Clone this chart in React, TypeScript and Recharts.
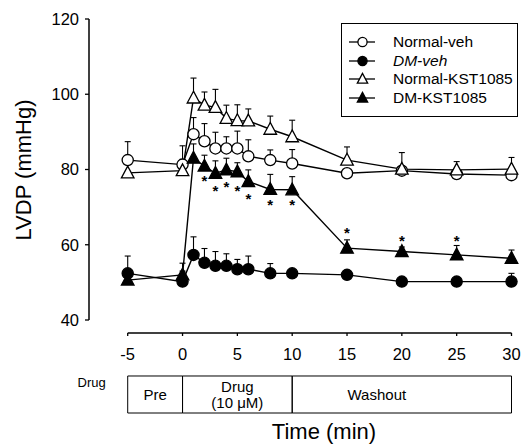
import React from 'react';
import {
  ComposedChart,
  Line,
  XAxis,
  YAxis,
  ErrorBar,
  Scatter,
  ReferenceLine,
  ReferenceArea,
  Legend,
} from 'recharts';

// ---------- data ----------
const times = [-5, 0, 1, 2, 3, 4, 5, 6, 8, 10, 15, 20, 25, 30];
const normalVeh = [82.5, 81.3, 89.4, 87.5, 85.6, 85.6, 85.6, 83.5, 82.5, 81.6, 79.0, 79.7, 78.8, 78.5];
const normalVehErr = [4.9, 5.0, 4.4, 4.7, 4.3, 3.1, 4.6, 4.4, 2.7, 3.7, 0.8, 1.2, 1.0, 1.0];
const dmVeh = [52.4, 50.2, 57.3, 55.2, 54.4, 54.4, 53.5, 53.5, 52.4, 52.4, 52.0, 50.2, 50.2, 50.2];
const dmVehErr = [4.6, 4.9, 4.8, 3.8, 3.8, 3.2, 2.6, 3.5, 2.6, 1.0, 1.0, 1.0, 1.0, 2.2];
const normalKst = [79.1, 79.7, 99.0, 97.1, 96.5, 93.6, 93.0, 92.9, 90.7, 88.7, 82.5, 80.1, 79.9, 80.1];
const normalKstErr = [3.2, 3.0, 5.3, 3.5, 4.8, 3.5, 4.2, 3.2, 3.5, 4.4, 3.5, 4.4, 2.2, 3.1];
const dmKst = [50.6, 52.0, 83.0, 80.9, 79.0, 79.9, 79.4, 76.8, 74.7, 74.6, 59.1, 58.2, 57.3, 56.4];
const dmKstErr = [1.0, 1.0, 3.8, 2.9, 3.3, 3.1, 2.4, 3.1, 4.0, 3.5, 2.2, 1.2, 2.5, 2.2];

const starTimes = [2, 3, 4, 5, 6, 8, 10, 15, 20, 25];
const starValues = [77.7, 75.0, 76.2, 75.0, 73.0, 71.4, 71.4, 63.9, 61.9, 61.9];

const xTicks = [-5, 0, 5, 10, 15, 20, 25, 30];
const yTicks = [40, 60, 80, 100, 120];

const phaseStarts = [-5, 0, 10];
const phaseEnds = [0, 10, 30];
const phaseLabels = [['Pre'], ['Drug', '(10 \u03BCM)'], ['Washout']];

const seriesNames = ['Normal-veh', 'DM-veh', 'Normal-KST1085', 'DM-KST1085'];
const seriesKinds = ['circleOpen', 'circleFilled', 'triOpen', 'triFilled'];

// ---------- layout constants ----------
const X_MIN = -8.53;
const X_MAX = 30;
const Y_MIN = 36.545;
const Y_MAX = 120;
const BOX_TOP = 25.12;
const BOX_BOTTOM = 15.28;
const FONT = '"Liberation Sans", Arial, Helvetica, sans-serif';

const data = times.map((t, i) => ({
  t,
  nv: normalVeh[i],
  nvE: [0, normalVehErr[i]],
  dv: dmVeh[i],
  dvE: [0, dmVehErr[i]],
  nk: normalKst[i],
  nkE: [0, normalKstErr[i]],
  dk: dmKst[i],
  dkE: [0, dmKstErr[i]],
}));

const starData = starTimes.map((t, i) => ({ t, s: starValues[i] }));

function markerShape(kind: string, cx: number, cy: number, scale = 1, key?: any) {
  if (cx == null || cy == null || isNaN(cx) || isNaN(cy)) return <g key={key} />;
  if (kind === 'circleOpen' || kind === 'circleFilled') {
    return (
      <circle
        key={key}
        cx={cx}
        cy={cy}
        r={5.6 * scale}
        fill={kind === 'circleOpen' ? '#fff' : '#000'}
        stroke="#000"
        strokeWidth={1.3}
      />
    );
  }
  const h1 = 6.8 * scale;
  const h2 = 5 * scale;
  const w = 6.3 * scale;
  return (
    <polygon
      key={key}
      points={`${cx},${cy - h1} ${cx - w},${cy + h2} ${cx + w},${cy + h2}`}
      fill={kind === 'triOpen' ? '#fff' : '#000'}
      stroke="#000"
      strokeWidth={1.3}
      strokeLinejoin="miter"
    />
  );
}

const makeDot = (kind: string) => (p: any) => markerShape(kind, p.cx, p.cy, 1, `${kind}-${p.index}`);

const Star = (p: any) => (
  <text
    x={p.cx}
    y={p.cy + 8}
    textAnchor="middle"
    fontSize={15}
    fontWeight="bold"
    fontFamily={FONT}
    fill="#000"
  >
    *
  </text>
);

const LegendBox = () => (
  <div
    style={{
      width: 177,
      height: 94,
      border: '1px solid #000',
      boxSizing: 'border-box',
      background: '#fff',
      position: 'relative',
      fontFamily: FONT,
      fontSize: 15.5,
      color: '#000',
    }}
  >
    {seriesNames.map((name, i) => (
      <div
        key={name}
        style={{
          position: 'absolute',
          left: 0,
          top: 9 + i * 18.5,
          height: 18,
          display: 'flex',
          alignItems: 'center',
          whiteSpace: 'nowrap',
        }}
      >
        <svg width={50} height={18} style={{ display: 'block' }}>
          <line x1={7} y1={9} x2={33} y2={9} stroke="#000" strokeWidth={1.3} />
          {markerShape(seriesKinds[i], 20.5, 9, 0.82)}
        </svg>
        <span style={{ marginLeft: 1, fontStyle: i === 1 ? 'italic' : 'normal' }}>{name}</span>
      </div>
    ))}
  </div>
);

const makePhaseLabel = (i: number) => (props: any) => {
  const vb = props.viewBox || {};
  const lines = phaseLabels[i];
  const cx = vb.x + vb.width / 2 + (i === 2 ? -25 : 0);
  const cy = vb.y + vb.height / 2;
  const lh = 15.5;
  const first = cy - ((lines.length - 1) * lh) / 2;
  return (
    <g>
      {lines.map((ln, k) => (
        <text
          key={k}
          x={cx}
          y={first + k * lh + 5.5}
          textAnchor="middle"
          fontSize={15}
          fontFamily={FONT}
          fill="#000"
        >
          {ln}
        </text>
      ))}
      {i === 0 && (
        <text x={vb.x - 36} y={vb.y + 11} textAnchor="middle" fontSize={13} fontFamily={FONT} fill="#000">
          Drug
        </text>
      )}
    </g>
  );
};

const XTitle = (props: any) => {
  const vb = props.viewBox || {};
  return (
    <text x={vb.x + 235} y={vb.y + 106} textAnchor="middle" fontSize={22} fontFamily={FONT} fill="#000">
      Time (min)
    </text>
  );
};

const YTitle = (props: any) => {
  const vb = props.viewBox || {};
  const x = vb.x + 31;
  const y = vb.y + 151;
  return (
    <text
      x={x}
      y={y}
      transform={`rotate(-90, ${x}, ${y})`}
      textAnchor="middle"
      fontSize={22}
      fontFamily={FONT}
      fill="#000"
    >
      LVDP (mmHg)
    </text>
  );
};

export default function App() {
  const tickStyle = { fontSize: 16.5, fill: '#000', fontFamily: FONT };
  return (
    <div style={{ position: 'absolute', left: 0, top: 0, width: 521, height: 446, background: '#fff' }}>
      <ComposedChart
        width={521}
        height={446}
        data={data}
        margin={{ top: 19, right: 9.5, bottom: 0, left: 0 }}
      >
        <XAxis
          dataKey="t"
          type="number"
          domain={[X_MIN, X_MAX]}
          ticks={xTicks}
          axisLine={false}
          tickSize={3}
          tickMargin={12}
          tickLine={{ stroke: '#000', strokeWidth: 1.3 }}
          tick={tickStyle}
          height={113}
          interval={0}
          label={XTitle}
        />
        <YAxis
          type="number"
          domain={[Y_MIN, Y_MAX]}
          ticks={yTicks}
          axisLine={false}
          tickSize={4}
          tickMargin={6}
          tickLine={{ stroke: '#000', strokeWidth: 1.3 }}
          tick={tickStyle}
          width={89}
          interval={0}
          label={YTitle}
        />
        <ReferenceLine
          segment={[{ x: X_MIN, y: 40 }, { x: X_MIN, y: 120 }]}
          stroke="#000"
          strokeWidth={1.5}
          ifOverflow="visible"
        />
        <ReferenceLine
          segment={[{ x: -5, y: Y_MIN }, { x: 30, y: Y_MIN }]}
          stroke="#000"
          strokeWidth={1.5}
          ifOverflow="visible"
        />
        {phaseStarts.map((s, i) => (
          <ReferenceArea
            key={`ph-${i}`}
            x1={s}
            x2={phaseEnds[i]}
            y1={BOX_BOTTOM}
            y2={BOX_TOP}
            fill="#fff"
            fillOpacity={0}
            stroke="#000"
            strokeWidth={1}
            ifOverflow="visible"
            label={makePhaseLabel(i)}
          />
        ))}
        <Line dataKey="nv" stroke="#000" strokeWidth={1.4} dot={makeDot('circleOpen')} isAnimationActive={false} legendType="none">
          <ErrorBar dataKey="nvE" direction="y" width={3} stroke="#000" strokeWidth={1.1} />
        </Line>
        <Line dataKey="nk" stroke="#000" strokeWidth={1.4} dot={makeDot('triOpen')} isAnimationActive={false} legendType="none">
          <ErrorBar dataKey="nkE" direction="y" width={3} stroke="#000" strokeWidth={1.1} />
        </Line>
        <Line dataKey="dv" stroke="#000" strokeWidth={1.4} dot={makeDot('circleFilled')} isAnimationActive={false} legendType="none">
          <ErrorBar dataKey="dvE" direction="y" width={3} stroke="#000" strokeWidth={1.1} />
        </Line>
        <Line dataKey="dk" stroke="#000" strokeWidth={1.4} dot={makeDot('triFilled')} isAnimationActive={false} legendType="none">
          <ErrorBar dataKey="dkE" direction="y" width={3} stroke="#000" strokeWidth={1.1} />
        </Line>
        <Scatter data={starData} dataKey="s" shape={Star} isAnimationActive={false} legendType="none" />
        <Legend
          layout="vertical"
          align="center"
          verticalAlign="middle"
          content={LegendBox}
          wrapperStyle={{ position: 'absolute', left: 341, top: 23, width: 177, height: 94 }}
        />
      </ComposedChart>
    </div>
  );
}
